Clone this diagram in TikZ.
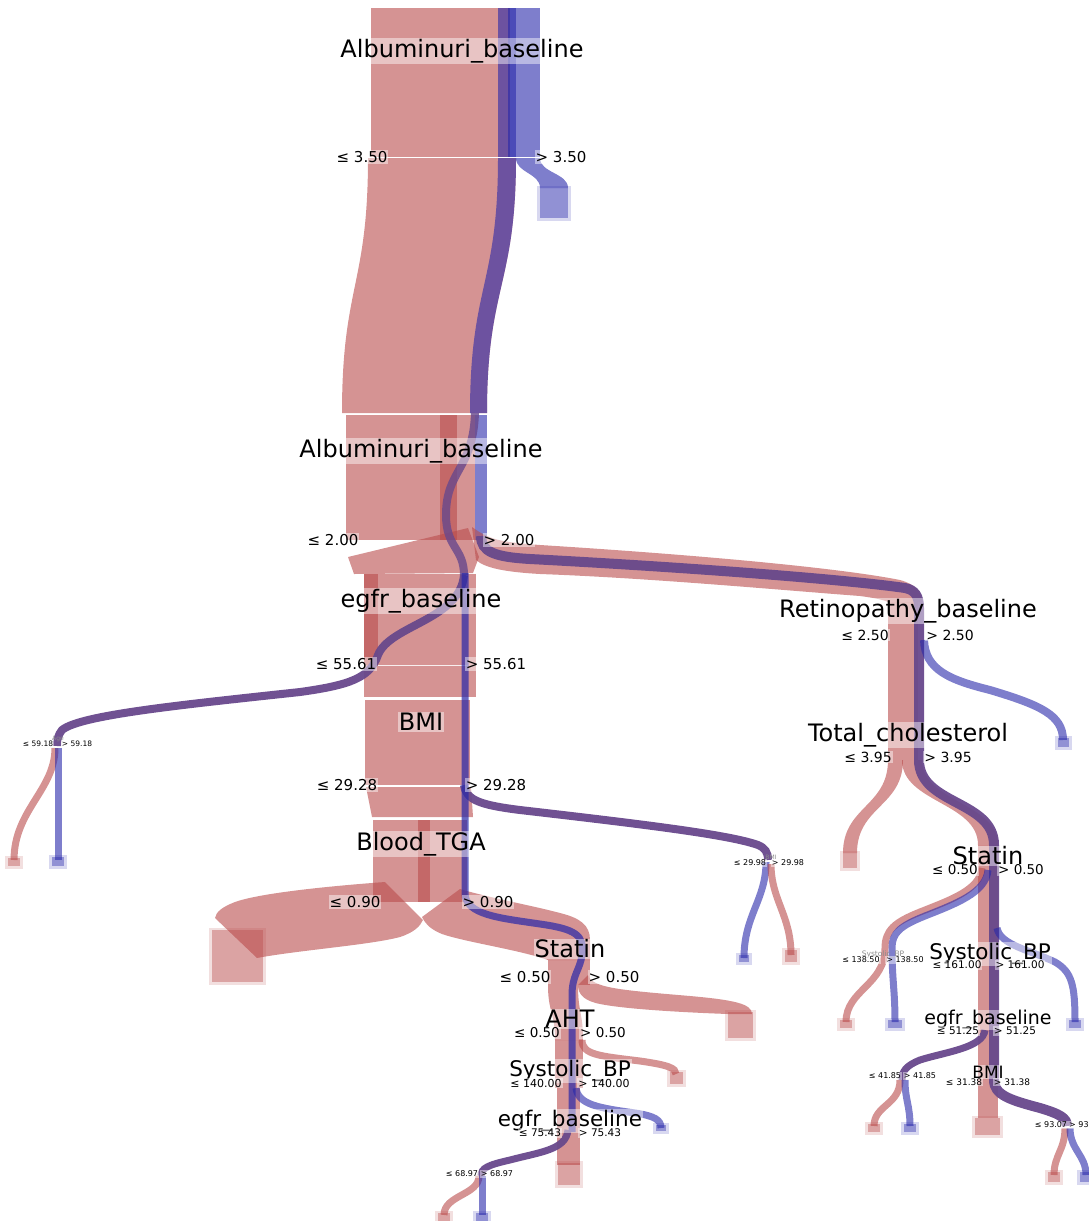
\documentclass[tikz,border=0pt]{standalone}
\usepackage{fontspec}
\setmainfont{DejaVu Sans}
\usetikzlibrary{positioning}

\definecolor{negred}{RGB}{185,75,75}
\definecolor{posblue}{RGB}{40,40,170}
\definecolor{mixviolet}{RGB}{104,72,140}

% vertical flow band: style, x1, y1, w1, x2, y2, w2
\newcommand{\flowband}[7]{%
  \path[#1] (#2,#3) .. controls (#2,{(#3+#6)/2}) and (#5,{(#3+#6)/2}) .. (#5,#6)
    -- ({#5+#7},#6) .. controls ({#5+#7},{(#3+#6)/2}) and ({#2+#4},{(#3+#6)/2}) .. ({#2+#4},#3) -- cycle;}
% leaf square: colour, x, y, w, h
\newcommand{\leafbox}[5]{%
  \fill[#1,fill opacity=0.18] ({#2-3},{#3-2}) rectangle ({#2+#4+3},{#3+#5+3});
  \fill[#1,fill opacity=0.4] (#2,#3) rectangle ({#2+#4},{#3+#5});}

\begin{document}
\begin{tikzpicture}[
  x=1pt,y=-1pt,
  redband/.style={fill=negred,fill opacity=0.6},
  blueband/.style={fill=posblue,fill opacity=0.6},
  redline/.style={draw=negred,draw opacity=0.6,line width=7pt},
  blueline/.style={draw=posblue,draw opacity=0.6,line width=7pt},
  mixline/.style={draw=mixviolet,draw opacity=0.95,line width=8pt},
  splitline/.style={draw=white,line width=0.8pt,opacity=0.85},
  lbl/.style={fill=white,fill opacity=0.45,text opacity=1,inner sep=1pt},
  title/.style={lbl,font=\fontsize{24}{28}\selectfont},
  titlem/.style={lbl,font=\fontsize{21.5}{25}\selectfont},
  titles/.style={lbl,font=\fontsize{19}{22}\selectfont},
  cutl/.style={lbl,font=\fontsize{15}{17}\selectfont},
  cutm/.style={lbl,font=\fontsize{13.5}{15}\selectfont},
  cuts/.style={lbl,font=\fontsize{10.5}{12}\selectfont},
  cutxs/.style={lbl,font=\fontsize{8}{9}\selectfont},
  tinyname/.style={inner sep=0pt,text=black!45,font=\fontsize{6}{7}\selectfont}
]
\useasboundingbox (0,0) rectangle (1089,1221);

% root split
\fill[redband] (371,8) rectangle (510,157);
\fill[blueband] (498,8) rectangle (540,157);
\fill[blueband] (508,8) rectangle (516,157);
\flowband{redband}{368}{158}{148}{342}{413}{145}
\flowband{blueband}{498}{158}{18}{470}{413}{17}
\flowband{blueband}{516}{158}{24}{540}{188}{28}
\leafbox{posblue}{540}{188}{28}{30}
\draw[splitline] (390,157) -- (535,157);

% second Albuminuri split
\fill[redband] (346,415) rectangle (475,540);
\fill[redband] (440,415) rectangle (457,540);
\fill[blueband] (475,415) rectangle (487,540);
\fill[redband] (348,557) -- (468,528) -- (479,557) -- (473,573) -- (354,574) -- cycle;
\fill[redband] (472,527) .. controls (490,540) and (500,542) .. (540,545)
  .. controls (700,555) and (840,568) .. (900,580)
  .. controls (915,584) and (922,592) .. (922,602) -- (888,602)
  .. controls (884,600) and (875,598) .. (860,596)
  .. controls (780,590) and (650,578) .. (540,574)
  .. controls (505,572) and (485,568) .. (476,560) -- cycle;

% egfr, BMI and Blood_TGA blocks
\fill[redband] (364,574) rectangle (476,697);
\fill[redband] (364,574) rectangle (378,665);
\fill[redband] (365,700) rectangle (470,785);
\fill[redband] (366,787) -- (471,787) -- (473,817) -- (372,817) -- cycle;
\fill[redband] (373,820) rectangle (467,902);
\fill[redband] (418,820) rectangle (430,902);
\draw[splitline] (378,665) -- (468,665);
\draw[splitline] (378,785) -- (466,785);

% Blood_TGA children
\fill[redband] (385,882) .. controls (330,886) and (260,893) .. (235,902)
  .. controls (222,907) and (216,912) .. (215,918) -- (257,958)
  .. controls (300,950) and (370,945) .. (400,937)
  .. controls (415,932) and (420,926) .. (423,920) -- cycle;
\leafbox{negred}{212}{930}{51}{52}
\fill[redband] (422,917) -- (460,889) .. controls (490,898) and (530,905) .. (560,913)
  .. controls (580,918) and (590,925) .. (590,940) -- (590,960) -- (548,960)
  .. controls (520,950) and (465,942) .. (442,934)
  .. controls (432,930) and (426,925) .. (422,917) -- cycle;

% lower Statin, AHT, Systolic_BP, egfr column
\fill[redband] (548,960) rectangle (590,985);
\flowband{redband}{548}{985}{30}{555}{1040}{28}
\fill[redband] (555,1040) rectangle (583,1088);
\fill[redband] (557,1088) rectangle (580,1165);
\leafbox{negred}{558}{1163}{22}{22}
\fill[redband] (588,975) .. controls (592,988) and (620,990) .. (690,996)
  .. controls (735,1000) and (752,1004) .. (752,1014) -- (728,1014)
  .. controls (700,1013) and (630,1010) .. (600,1004)
  .. controls (585,1001) and (578,995) .. (578,985) -- cycle;
\leafbox{negred}{728}{1012}{25}{26}
\draw[redline] (582,1040) .. controls (582,1055) and (600,1056) .. (640,1061)
  .. controls (668,1065) and (676,1068) .. (676,1074);
\leafbox{negred}{670}{1072}{13}{12}

% right subtree
\fill[redband] (888,602) rectangle (918,760);
\flowband{redband}{888}{760}{15}{843}{853}{14}
\leafbox{negred}{843}{853}{14}{15}
\flowband{redband}{902}{760}{20}{978}{845}{20}
\fill[redband] (978,845) rectangle (998,1118);
\leafbox{negred}{975}{1118}{25}{17}
\draw[redline] (982,868) .. controls (980,890) and (950,900) .. (920,912)
  .. controls (895,922) and (885,930) .. (885,948)
  .. controls (885,985) and (846,990) .. (846,1022);
\leafbox{negred}{840}{1020}{12}{8}

% blue and mixed flows
\draw[mixline,line width=8pt,draw opacity=0.8] (475,413) .. controls (473,470) and (446,470) .. (446,515)
  .. controls (446,548) and (464,548) .. (464,575);
\draw[mixline,line width=10pt] (481,536) .. controls (481,552) and (495,557) .. (530,559)
  .. controls (700,568) and (850,580) .. (905,588)
  .. controls (915,590) and (919,596) .. (919,608) -- (919,760)
  .. controls (919,805) and (994,800) .. (994,845) -- (994,1080)
  .. controls (994,1095) and (1010,1100) .. (1040,1108)
  .. controls (1060,1114) and (1067,1118) .. (1067,1126);
\draw[blueline,line width=8pt] (924,640) .. controls (925,670) and (950,680) .. (990,690)
  .. controls (1040,705) and (1063,715) .. (1063,740);
\leafbox{posblue}{1058}{738}{11}{9}
\draw[blueline] (988,870) .. controls (986,893) and (955,904) .. (925,916)
  .. controls (900,926) and (892,933) .. (892,948)
  .. controls (892,980) and (895,990) .. (895,1022);
\leafbox{posblue}{888}{1020}{14}{8}
\draw[blueline] (997,928) .. controls (1000,945) and (1030,950) .. (1055,962)
  .. controls (1072,972) and (1075,985) .. (1075,1022);
\leafbox{posblue}{1069}{1020}{12}{8}
\draw[mixline,line width=7pt] (985,1030) .. controls (983,1048) and (945,1052) .. (920,1060)
  .. controls (905,1066) and (902,1072) .. (902,1080);
\draw[redline] (900,1080) .. controls (900,1105) and (874,1105) .. (874,1126);
\draw[blueline] (905,1080) .. controls (905,1100) and (910,1105) .. (910,1126);
\leafbox{negred}{868}{1124}{12}{8}
\leafbox{posblue}{904}{1124}{12}{8}
\draw[redline] (1065,1128) .. controls (1065,1150) and (1054,1155) .. (1054,1175);
\draw[blueline] (1070,1128) .. controls (1070,1150) and (1086,1155) .. (1086,1175);
\leafbox{negred}{1048}{1172}{12}{10}
\leafbox{posblue}{1080}{1172}{12}{10}

% left part: egfr -> Age, BMI -> BMI
\draw[mixline] (464,575) .. controls (460,620) and (390,625) .. (378,655)
  .. controls (370,678) and (350,685) .. (300,692)
  .. controls (180,705) and (80,715) .. (62,730)
  .. controls (58,735) and (57,740) .. (57,746);
\draw[redline] (55,748) .. controls (55,790) and (14,810) .. (14,860);
\draw[blueline] (58,748) -- (58,860);
\leafbox{negred}{8}{858}{12}{8}
\leafbox{posblue}{52}{857}{12}{9}
\draw[mixline] (464,785) .. controls (466,800) and (480,805) .. (520,810)
  .. controls (650,825) and (730,835) .. (758,845)
  .. controls (765,848) and (768,852) .. (768,860);
\draw[blueline] (766,862) .. controls (766,900) and (744,915) .. (744,958);
\draw[redline] (771,864) .. controls (771,900) and (791,915) .. (791,955);
\leafbox{posblue}{739}{955}{10}{7}
\leafbox{negred}{785}{950}{12}{12}

% main blue line through the middle column
\draw[blueline,draw opacity=0.7] (465,573) -- (465,893)
  .. controls (465,915) and (500,918) .. (540,924)
  .. controls (575,929) and (585,935) .. (582,955)
  .. controls (580,970) and (572,975) .. (572,995) -- (572,1132);
\draw[blueline] (576,1088) .. controls (578,1105) and (600,1108) .. (635,1113)
  .. controls (655,1116) and (661,1120) .. (661,1128);
\leafbox{posblue}{656}{1125}{10}{6}
\draw[mixline,line width=7pt] (568,1130) .. controls (566,1150) and (540,1152) .. (510,1160)
  .. controls (488,1165) and (481,1168) .. (481,1176);
\draw[redline] (479,1176) .. controls (479,1195) and (444,1195) .. (444,1215);
\draw[blueline] (482,1176) -- (482,1215);
\leafbox{negred}{438}{1213}{12}{8}
\leafbox{posblue}{476}{1213}{12}{8}

% node titles
\node[title] (root) at (462,51) {Albuminuri\_baseline};
\node[title] (alb2) at (421,451) {Albuminuri\_baseline};
\node[title] (egfr1) at (421,601) {egfr\_baseline};
\node[title] (bmi1) at (421,722) {BMI};
\node[title] (tga) at (421,844) {Blood\_TGA};
\node[title] (retino) at (908,611) {Retinopathy\_baseline};
\node[title] (chol) at (908,735) {Total\_cholesterol};
\node[title] (statinR) at (988,856) {Statin};
\node[title] (statinL) at (570,949) {Statin};
\node[title] (aht) at (570,1019) {AHT};
\node[titlem] (sbpL) at (570,1071) {Systolic\_BP};
\node[titlem] (egfrL) at (570,1121) {egfr\_baseline};
\node[titlem] (sbpR) at (990,954) {Systolic\_BP};
\node[titles] (egfrR) at (988,1020) {egfr\_baseline};
\node[titles,font=\fontsize{17}{20}\selectfont] (bmiR) at (988,1072) {BMI};

% split labels
\node[cutl] (root-le) at (362,157) {≤ 3.50};
\node[cutl] (root-gt) at (561,157) {> 3.50};
\node[cutl] (alb2-le) at (333,540) {≤ 2.00};
\node[cutl] (alb2-gt) at (509,540) {> 2.00};
\node[cutl] (egfr1-le) at (346,664) {≤ 55.61};
\node[cutl] (egfr1-gt) at (496,664) {> 55.61};
\node[cutl] (bmi1-le) at (347,785) {≤ 29.28};
\node[cutl] (bmi1-gt) at (496,785) {> 29.28};
\node[cutl] (tga-le) at (355,902) {≤ 0.90};
\node[cutl] (tga-gt) at (488,902) {> 0.90};
\node[cutl] (statinL-le) at (525,977) {≤ 0.50};
\node[cutl] (statinL-gt) at (614,977) {> 0.50};
\node[cutm] (aht-le) at (537,1033) {≤ 0.50};
\node[cutm] (aht-gt) at (603,1033) {> 0.50};
\node[cuts,font=\fontsize{11}{12}\selectfont] (sbpL-le) at (536,1083) {≤ 140.00};
\node[cuts,font=\fontsize{11}{12}\selectfont] (sbpL-gt) at (604,1083) {> 140.00};
\node[cuts] (egfrL-le) at (540,1133) {≤ 75.43};
\node[cuts] (egfrL-gt) at (600,1133) {> 75.43};
\node[cutl,font=\fontsize{14}{16}\selectfont] (retino-le) at (865,635) {≤ 2.50};
\node[cutl,font=\fontsize{14}{16}\selectfont] (retino-gt) at (950,635) {> 2.50};
\node[cutl,font=\fontsize{14}{16}\selectfont] (chol-le) at (868,757) {≤ 3.95};
\node[cutl,font=\fontsize{14}{16}\selectfont] (chol-gt) at (948,757) {> 3.95};
\node[cutm] (statinR-le) at (955,870) {≤ 0.50};
\node[cutm] (statinR-gt) at (1021,870) {> 0.50};
\node[cuts] (sbpR-le) at (957,965) {≤ 161.00};
\node[cuts] (sbpR-gt) at (1020,965) {> 161.00};
\node[cuts] (egfrR-le) at (958,1031) {≤ 51.25};
\node[cuts] (egfrR-gt) at (1015,1031) {> 51.25};
\node[cuts,font=\fontsize{9}{10}\selectfont] (bmiR-le) at (964,1082) {≤ 31.38};
\node[cuts,font=\fontsize{9}{10}\selectfont] (bmiR-gt) at (1012,1082) {> 31.38};

% small nodes near the leaves
\node[tinyname] (age) at (58,739) {Age};
\node[cutxs,font=\fontsize{7.5}{9}\selectfont] (age-le) at (38,744) {≤ 59.18};
\node[cutxs,font=\fontsize{7.5}{9}\selectfont] (age-gt) at (77,744) {> 59.18};
\node[tinyname] (bmi2) at (771,857) {BMI};
\node[cutxs] (bmi2-le) at (750,863) {≤ 29.98};
\node[cutxs] (bmi2-gt) at (788,863) {> 29.98};
\node[tinyname,font=\fontsize{7.5}{9}\selectfont] (sbp2) at (883,955) {Systolic\_BP};
\node[cutxs] (sbp2-le) at (861,960) {≤ 138.50};
\node[cutxs] (sbp2-gt) at (905,960) {> 138.50};
\node[cutxs] (n4185-le) at (885,1076) {≤ 41.85};
\node[cutxs] (n4185-gt) at (920,1076) {> 41.85};
\node[cutxs] (n9307-le) at (1051,1125) {≤ 93.07};
\node[cutxs,anchor=west] (n9307-gt) at (1068,1125) {> 93.07};
\node[cutxs] (n6897-le) at (462,1174) {≤ 68.97};
\node[cutxs] (n6897-gt) at (497,1174) {> 68.97};
\end{tikzpicture}
\end{document}
